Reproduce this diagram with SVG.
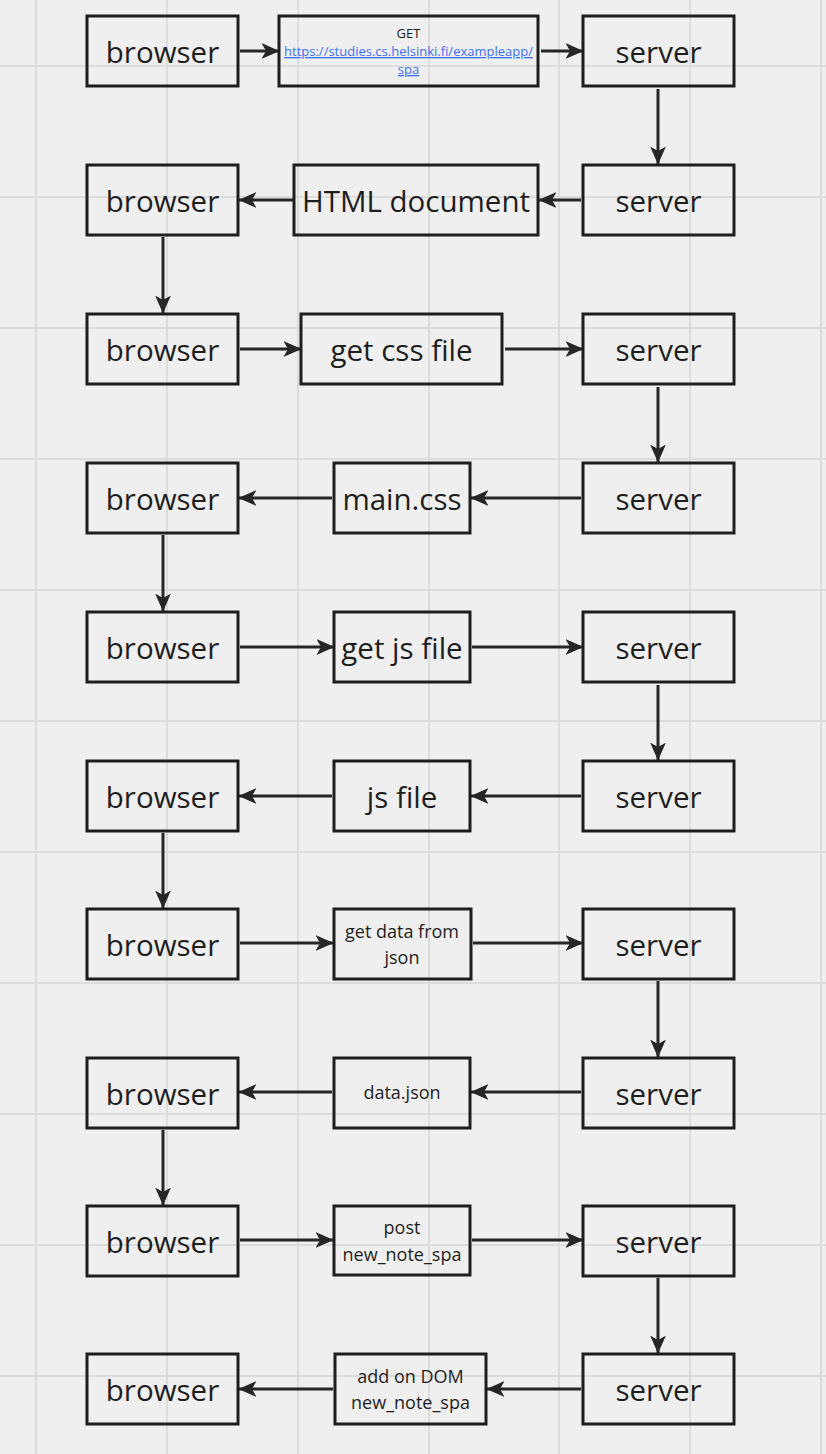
<svg xmlns="http://www.w3.org/2000/svg" width="826" height="1454" viewBox="0 0 826 1454">
<style>
.grid line{stroke:#dcdcdc;stroke-width:2}
.box{fill:none;stroke:#1e1e1e;stroke-width:3}
.big{font-family:"Open Sans","Noto Sans",sans-serif;font-size:29.5px;fill:#1e1e1e;text-anchor:middle}
.small{font-family:"Open Sans","Noto Sans",sans-serif;font-size:18px;fill:#1e1e1e;text-anchor:middle}
.tiny{font-family:"Open Sans","Noto Sans",sans-serif;font-size:13px;fill:#1e1e1e;text-anchor:middle}
.link{fill:#3d6ff5;text-decoration:underline}
.edges line{stroke:#262626;stroke-width:3;marker-end:url(#ah)}
</style>
<defs>
<marker id="ah" markerUnits="userSpaceOnUse" markerWidth="18" markerHeight="18" viewBox="0 0 16 16" refX="15.5" refY="8" orient="auto">
<path d="M0,1 L16,8 L0,15 L4,8 Z" fill="#262626"/>
</marker>
</defs>
<rect width="826" height="1454" fill="#efefef"/>
<g class="grid">
<line x1="36" y1="0" x2="36" y2="1454"/>
<line x1="167" y1="0" x2="167" y2="1454"/>
<line x1="298" y1="0" x2="298" y2="1454"/>
<line x1="429" y1="0" x2="429" y2="1454"/>
<line x1="559" y1="0" x2="559" y2="1454"/>
<line x1="690" y1="0" x2="690" y2="1454"/>
<line x1="821" y1="0" x2="821" y2="1454"/>
<line x1="0" y1="66" x2="826" y2="66"/>
<line x1="0" y1="197" x2="826" y2="197"/>
<line x1="0" y1="328" x2="826" y2="328"/>
<line x1="0" y1="459" x2="826" y2="459"/>
<line x1="0" y1="590" x2="826" y2="590"/>
<line x1="0" y1="721" x2="826" y2="721"/>
<line x1="0" y1="852" x2="826" y2="852"/>
<line x1="0" y1="983" x2="826" y2="983"/>
<line x1="0" y1="1114" x2="826" y2="1114"/>
<line x1="0" y1="1245" x2="826" y2="1245"/>
<line x1="0" y1="1376" x2="826" y2="1376"/>
</g>

<g class="edges">
<line x1="240" y1="51" x2="279" y2="51"/>
<line x1="541" y1="51" x2="583" y2="51"/>
<line x1="658" y1="89" x2="658" y2="164"/>
<line x1="581" y1="200" x2="539" y2="200"/>
<line x1="293" y1="200" x2="239" y2="200"/>
<line x1="163" y1="237" x2="163" y2="313"/>
<line x1="240" y1="349" x2="301" y2="349"/>
<line x1="505" y1="349" x2="583" y2="349"/>
<line x1="658" y1="387" x2="658" y2="462"/>
<line x1="581" y1="498" x2="471" y2="498"/>
<line x1="332" y1="498" x2="239" y2="498"/>
<line x1="163" y1="535" x2="163" y2="611"/>
<line x1="240" y1="647" x2="334" y2="647"/>
<line x1="472" y1="647" x2="583" y2="647"/>
<line x1="658" y1="685" x2="658" y2="760"/>
<line x1="581" y1="796" x2="471" y2="796"/>
<line x1="332" y1="796" x2="239" y2="796"/>
<line x1="163" y1="833" x2="163" y2="908"/>
<line x1="240" y1="943" x2="333" y2="943"/>
<line x1="473" y1="943" x2="583" y2="943"/>
<line x1="658" y1="981" x2="658" y2="1057"/>
<line x1="581" y1="1092" x2="471" y2="1092"/>
<line x1="332" y1="1092" x2="239" y2="1092"/>
<line x1="163" y1="1130" x2="163" y2="1205"/>
<line x1="240" y1="1240" x2="333" y2="1240"/>
<line x1="472" y1="1240" x2="583" y2="1240"/>
<line x1="658" y1="1278" x2="658" y2="1353"/>
<line x1="581" y1="1389" x2="487" y2="1389"/>
<line x1="333" y1="1389" x2="239" y2="1389"/>
</g>

<g id="browser1"><rect class="box" x="87" y="16" width="151" height="70"/><text class="big" x="162.5" y="63">browser</text></g>
<g id="get-spa"><rect class="box" x="279" y="16" width="259" height="70"/>
<text class="tiny" x="408.5" y="38">GET</text>
<text class="tiny link" x="408.5" y="56">https://studies.cs.helsinki.fi/exampleapp/</text>
<text class="tiny link" x="408.5" y="74">spa</text></g>
<g id="server1"><rect class="box" x="583" y="16" width="151" height="70"/><text class="big" x="658.5" y="63">server</text></g>
<g id="browser2"><rect class="box" x="87" y="165" width="151" height="70"/><text class="big" x="162.5" y="212">browser</text></g>
<g id="html-document"><rect class="box" x="294" y="165" width="244" height="70"/><text class="big" x="416" y="212">HTML document</text></g>
<g id="server2"><rect class="box" x="583" y="165" width="151" height="70"/><text class="big" x="658.5" y="212">server</text></g>
<g id="browser3"><rect class="box" x="87" y="314" width="151" height="70"/><text class="big" x="162.5" y="361">browser</text></g>
<g id="get-css"><rect class="box" x="301" y="314" width="201" height="70"/><text class="big" x="401.5" y="361">get css file</text></g>
<g id="server3"><rect class="box" x="583" y="314" width="151" height="70"/><text class="big" x="658.5" y="361">server</text></g>
<g id="browser4"><rect class="box" x="87" y="463" width="151" height="70"/><text class="big" x="162.5" y="510">browser</text></g>
<g id="main-css"><rect class="box" x="334" y="463" width="136" height="70"/><text class="big" x="402" y="510">main.css</text></g>
<g id="server4"><rect class="box" x="583" y="463" width="151" height="70"/><text class="big" x="658.5" y="510">server</text></g>
<g id="browser5"><rect class="box" x="87" y="612" width="151" height="70"/><text class="big" x="162.5" y="659">browser</text></g>
<g id="get-js"><rect class="box" x="334" y="612" width="136" height="70"/><text class="big" x="402" y="659">get js file</text></g>
<g id="server5"><rect class="box" x="583" y="612" width="151" height="70"/><text class="big" x="658.5" y="659">server</text></g>
<g id="browser6"><rect class="box" x="87" y="761" width="151" height="70"/><text class="big" x="162.5" y="808">browser</text></g>
<g id="js-file"><rect class="box" x="334" y="761" width="136" height="70"/><text class="big" x="402" y="808">js file</text></g>
<g id="server6"><rect class="box" x="583" y="761" width="151" height="70"/><text class="big" x="658.5" y="808">server</text></g>
<g id="browser7"><rect class="box" x="87" y="909" width="151" height="70"/><text class="big" x="162.5" y="956">browser</text></g>
<g id="get-data"><rect class="box" x="334" y="909" width="137" height="70"/>
<text class="small" x="402" y="938">get data from</text>
<text class="small" x="402" y="964">json</text></g>
<g id="server7"><rect class="box" x="583" y="909" width="151" height="70"/><text class="big" x="658.5" y="956">server</text></g>
<g id="browser8"><rect class="box" x="87" y="1058" width="151" height="70"/><text class="big" x="162.5" y="1105">browser</text></g>
<g id="data-json"><rect class="box" x="334" y="1058" width="136" height="70"/><text class="small" x="402" y="1099">data.json</text></g>
<g id="server8"><rect class="box" x="583" y="1058" width="151" height="70"/><text class="big" x="658.5" y="1105">server</text></g>
<g id="browser9"><rect class="box" x="87" y="1206" width="151" height="70"/><text class="big" x="162.5" y="1253">browser</text></g>
<g id="post-note"><rect class="box" x="334" y="1206" width="136" height="69"/>
<text class="small" x="402" y="1234">post</text>
<text class="small" x="402" y="1261">new_note_spa</text></g>
<g id="server9"><rect class="box" x="583" y="1206" width="151" height="70"/><text class="big" x="658.5" y="1253">server</text></g>
<g id="browser10"><rect class="box" x="87" y="1354" width="151" height="70"/><text class="big" x="162.5" y="1401">browser</text></g>
<g id="add-dom"><rect class="box" x="335" y="1354" width="151" height="70"/>
<text class="small" x="410.5" y="1383">add on DOM</text>
<text class="small" x="410.5" y="1409">new_note_spa</text></g>
<g id="server10"><rect class="box" x="583" y="1354" width="151" height="70"/><text class="big" x="658.5" y="1401">server</text></g>
</svg>
